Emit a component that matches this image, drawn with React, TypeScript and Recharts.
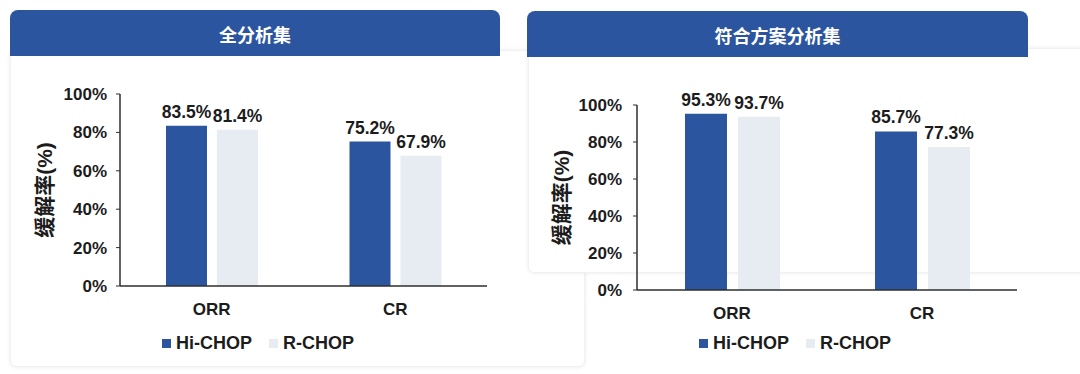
import { BarChart, Bar, XAxis, YAxis, Legend, LabelList, Label } from "recharts";

const categories = ["ORR", "CR"];
const seriesNames = ["Hi-CHOP", "R-CHOP"];
const fullHi = [83.5, 75.2];
const fullR = [81.4, 67.9];
const perProtocolHi = [95.3, 85.7];
const perProtocolR = [93.7, 77.3];
const yTicks = [0, 20, 40, 60, 80, 100];
const panelTitles = ["全分析集", "符合方案分析集"];
const yAxisTitle = "缓解率(%)";

const BLUE = "#2B559E";
const LIGHT = "#E7EBF2";
const INK = "#1c1c1c";
const FONT = "'Liberation Sans', Arial, 'Noto Sans CJK SC', sans-serif";

function toRows(hi: number[], r: number[]) {
  return categories.map((c, i) => ({ name: c, hi: hi[i], r: r[i] }));
}

function LegendBox({ padLeft, width }: { padLeft: number; width: number }) {
  const item = (color: string, text: string, gap: number) => (
    <div style={{ display: "flex", alignItems: "center", marginRight: gap }}>
      <div style={{ width: 9, height: 9, background: color, marginRight: 5 }} />
      <span style={{ fontSize: 18, fontWeight: 700, color: INK, fontFamily: FONT }}>{text}</span>
    </div>
  );
  return (
    <div style={{ width, height: 26, display: "flex", alignItems: "center", paddingLeft: padLeft, boxSizing: "border-box" }}>
      {item(BLUE, seriesNames[0], 17)}
      {item(LIGHT, seriesNames[1], 0)}
    </div>
  );
}

function Panel({
  rows,
  width,
  height,
  margin,
  yWidth,
  tickMargin,
  xHeight,
  labelOffset,
  legendPad,
  barSize,
  barGap,
}: any) {
  const tickStyle = { fontSize: 17, fontWeight: 700, fill: INK, fontFamily: FONT };
  const valueStyle = { fontSize: 17.5, fontWeight: 700, fill: INK, fontFamily: FONT };
  return (
    <BarChart width={width} height={height} data={rows} margin={margin} barSize={barSize} barGap={barGap}>
      <XAxis
        dataKey="name"
        axisLine={{ stroke: "#2e2e2e", strokeWidth: 1.5 }}
        tickLine={false}
        tickMargin={11}
        height={xHeight}
        tick={tickStyle}
      />
      <YAxis
        domain={[0, 100]}
        ticks={yTicks}
        tickFormatter={(v: number) => `${v}%`}
        axisLine={{ stroke: "#2e2e2e", strokeWidth: 1.5 }}
        tickLine={{ stroke: "#2e2e2e" }}
        tickSize={4}
        tickMargin={tickMargin}
        width={yWidth}
        tick={tickStyle}
      >
        <Label
          value={yAxisTitle}
          angle={-90}
          position="insideLeft"
          offset={labelOffset}
          style={{ textAnchor: "middle", fontSize: 21, fontWeight: 700, fill: INK, fontFamily: FONT }}
        />
      </YAxis>
      <Legend
        verticalAlign="bottom"
        wrapperStyle={{ left: 0, width }}
        content={() => <LegendBox padLeft={legendPad} width={width} />}
      />
      <Bar dataKey="hi" name={seriesNames[0]} fill={BLUE} isAnimationActive={false}>
        <LabelList
          dataKey="hi"
          position="top"
          offset={8}
          formatter={(v: any) => `${Number(v).toFixed(1)}%`}
          style={valueStyle}
        />
      </Bar>
      <Bar dataKey="r" name={seriesNames[1]} fill={LIGHT} isAnimationActive={false}>
        <LabelList
          dataKey="r"
          position="top"
          offset={8}
          formatter={(v: any) => `${Number(v).toFixed(1)}%`}
          style={valueStyle}
        />
      </Bar>
    </BarChart>
  );
}

export default function App() {
  const abs = (l: number, t: number, w: number, h: number): React.CSSProperties => ({
    position: "absolute",
    left: l,
    top: t,
    width: w,
    height: h,
  });
  const header = (l: number, t: number, w: number, title: string) => (
    <div
      style={{
        ...abs(l, t, w, 46),
        background: BLUE,
        borderRadius: "8px 8px 0 0",
        color: "#fff",
        fontFamily: FONT,
        fontWeight: 700,
        fontSize: 18,
        textAlign: "center",
        lineHeight: "52px",
      }}
    >
      {title}
    </div>
  );
  return (
    <div style={{ position: "absolute", left: 0, top: 0, width: 1080, height: 374, background: "#fff", overflow: "hidden" }}>
      {/* left card body */}
      <div
        style={{
          ...abs(10, 50, 575, 317),
          background: "#fff",
          borderRadius: 6,
          boxShadow: "0 0 4px rgba(0,0,0,0.08)",
          border: "1px solid #f1f1f1",
          boxSizing: "border-box",
        }}
      />
      {header(10, 10, 490, panelTitles[0])}
      {/* right card body */}
      <div
        style={{
          ...abs(528, 48, 580, 225),
          background: "#fff",
          borderRadius: 6,
          boxShadow: "0 0 4px rgba(0,0,0,0.08)",
          border: "1px solid #f1f1f1",
          boxSizing: "border-box",
        }}
      />
      {header(527, 11, 501, panelTitles[1])}

      <div style={abs(0, 0, 500, 374)}>
        <Panel
          rows={toRows(fullHi, fullR)}
          width={500}
          height={374}
          margin={{ top: 94, right: 13, left: 0, bottom: 18 }}
          yWidth={120}
          tickMargin={9}
          xHeight={44}
          labelOffset={45}
          legendPad={162}
          barSize={41}
          barGap={10}
        />
      </div>
      <div style={abs(520, 0, 560, 374)}>
        <Panel
          rows={toRows(perProtocolHi, perProtocolR)}
          width={560}
          height={374}
          margin={{ top: 105, right: 63, left: 0, bottom: 18 }}
          yWidth={117}
          tickMargin={11}
          xHeight={40}
          labelOffset={42}
          legendPad={179}
          barSize={42}
          barGap={11}
        />
      </div>
    </div>
  );
}
